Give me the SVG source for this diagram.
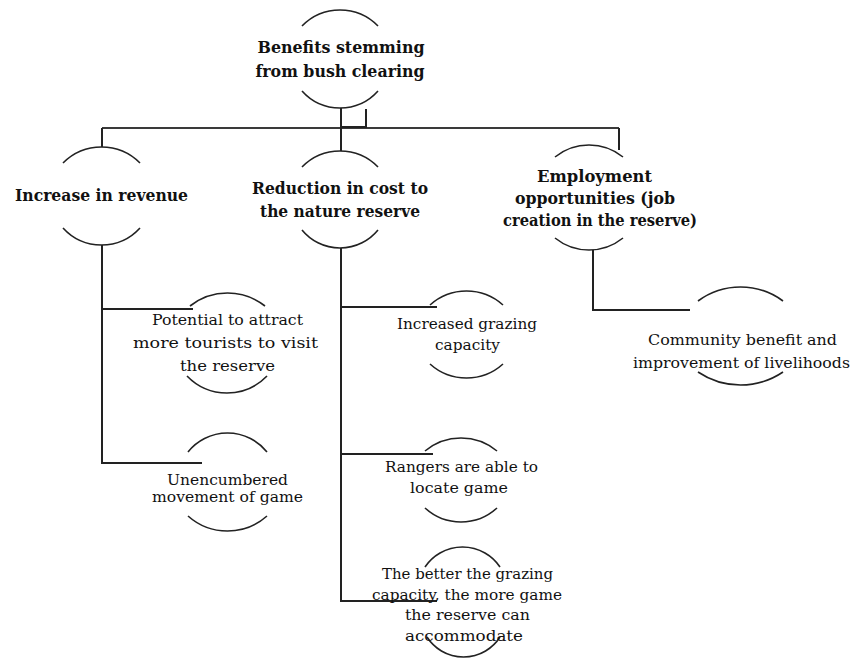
<svg xmlns="http://www.w3.org/2000/svg" width="852" height="659" viewBox="0 0 852 659">
<style>
.arc{fill:none;stroke:#222;stroke-width:1.6}
.con{fill:none;stroke:#222;stroke-width:2}
.hl{fill:none;stroke:#3a3a3a;stroke-width:2}
.b{font-family:"DejaVu Serif","Liberation Serif",serif;font-weight:bold;font-size:16px;fill:#111;text-anchor:middle}
.r{font-family:"DejaVu Serif","Liberation Serif",serif;font-size:15px;fill:#111;text-anchor:middle}
</style>
<rect width="852" height="659" fill="#fff"/>
<g id="connectors">
<path class="hl" d="M102 128H619"/>
<path class="con" d="M341 108V151"/>
<path class="con" d="M341 127H366V109"/>
<path class="con" d="M102 128V147"/>
<path class="con" d="M619 128V150"/>
<path class="con" d="M102 245V463H202"/>
<path class="con" d="M102 309H193"/>
<path class="con" d="M341 248V601H437"/>
<path class="con" d="M341 307H437"/>
<path class="con" d="M341 454H433"/>
<path class="con" d="M593 250V310H690"/>
</g>
<g id="node-benefits">
<path class="arc" d="M302 26A53.1 53.1 0 0 1 378 26"/>
<path class="arc" d="M302 91A51 51 0 0 0 378 91"/>
<text class="b" x="341" y="53" textLength="167" lengthAdjust="spacingAndGlyphs">Benefits stemming</text>
<text class="b" x="340" y="77" textLength="169" lengthAdjust="spacingAndGlyphs">from bush clearing</text>
</g>
<g id="node-revenue">
<path class="arc" d="M63 163A54.3 54.3 0 0 1 140 163"/>
<path class="arc" d="M63 228A52.1 52.1 0 0 0 140 228"/>
<text class="b" x="101.5" y="201" textLength="173" lengthAdjust="spacingAndGlyphs">Increase in revenue</text>
</g>
<g id="node-cost">
<path class="arc" d="M302 167A53.1 53.1 0 0 1 378 167"/>
<path class="arc" d="M302 230A49.1 49.1 0 0 0 378 230"/>
<text class="b" x="340" y="194" textLength="176" lengthAdjust="spacingAndGlyphs">Reduction in cost to</text>
<text class="b" x="340" y="217" textLength="160" lengthAdjust="spacingAndGlyphs">the nature reserve</text>
</g>
<g id="node-employment">
<path class="arc" d="M555 157A54.2 54.2 0 0 1 623 157"/>
<path class="arc" d="M555 238A54.2 54.2 0 0 0 623 238"/>
<text class="b" x="594.5" y="182" textLength="115" lengthAdjust="spacingAndGlyphs">Employment</text>
<text class="b" x="595" y="204" textLength="160" lengthAdjust="spacingAndGlyphs">opportunities (job</text>
<text class="b" x="600" y="226" textLength="194" lengthAdjust="spacingAndGlyphs">creation in the reserve)</text>
</g>
<g id="node-tourists">
<path class="arc" d="M190 306A60.6 60.6 0 0 1 265 306"/>
<path class="arc" d="M187 376A55.6 55.6 0 0 0 267 376"/>
<text class="r" x="227.5" y="325" textLength="151" lengthAdjust="spacingAndGlyphs">Potential to attract</text>
<text class="r" x="225.5" y="348" textLength="185" lengthAdjust="spacingAndGlyphs">more tourists to visit</text>
<text class="r" x="227.5" y="371" textLength="95" lengthAdjust="spacingAndGlyphs">the reserve</text>
</g>
<g id="node-movement">
<path class="arc" d="M188 452A50.6 50.6 0 0 1 267 452"/>
<path class="arc" d="M188 516A59.5 59.5 0 0 0 267 516"/>
<text class="r" x="227.5" y="485" textLength="121" lengthAdjust="spacingAndGlyphs">Unencumbered</text>
<text class="r" x="227.5" y="502" textLength="151" lengthAdjust="spacingAndGlyphs">movement of game</text>
</g>
<g id="node-grazing">
<path class="arc" d="M430 305A54.6 54.6 0 0 1 503 305"/>
<path class="arc" d="M430 364A54.6 54.6 0 0 0 503 364"/>
<text class="r" x="467" y="329" textLength="140" lengthAdjust="spacingAndGlyphs">Increased grazing</text>
<text class="r" x="467.5" y="350" textLength="65" lengthAdjust="spacingAndGlyphs">capacity</text>
</g>
<g id="node-rangers">
<path class="arc" d="M425 451A56.3 56.3 0 0 1 497 451"/>
<path class="arc" d="M425 508A53.3 53.3 0 0 0 497 508"/>
<text class="r" x="461.5" y="472" textLength="153" lengthAdjust="spacingAndGlyphs">Rangers are able to</text>
<text class="r" x="459" y="493" textLength="98" lengthAdjust="spacingAndGlyphs">locate game</text>
</g>
<g id="node-better">
<path class="arc" d="M425 567A45.2 45.2 0 0 1 500 567"/>
<path class="arc" d="M427 637A43.3 43.3 0 0 0 500 637"/>
<text class="r" x="467.5" y="579" textLength="171" lengthAdjust="spacingAndGlyphs">The better the grazing</text>
<text class="r" x="467" y="600" textLength="190" lengthAdjust="spacingAndGlyphs">capacity, the more game</text>
<text class="r" x="467.5" y="620" textLength="125" lengthAdjust="spacingAndGlyphs">the reserve can</text>
<text class="r" x="464" y="641" textLength="118" lengthAdjust="spacingAndGlyphs">accommodate</text>
</g>
<g id="node-community">
<path class="arc" d="M698 301A71.5 71.5 0 0 1 783 301"/>
<path class="arc" d="M698 372A76 76 0 0 0 783 372"/>
<text class="r" x="742.5" y="345" textLength="189" lengthAdjust="spacingAndGlyphs">Community benefit and</text>
<text class="r" x="741.5" y="368" textLength="217" lengthAdjust="spacingAndGlyphs">improvement of livelihoods</text>
</g>
</svg>
